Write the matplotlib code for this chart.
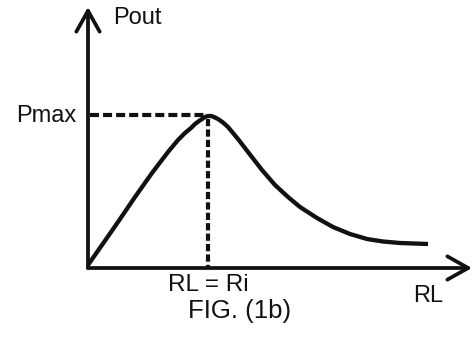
import matplotlib
matplotlib.use("Agg")
import matplotlib.pyplot as plt

plt.rcParams['font.family'] = ['Liberation Sans', 'DejaVu Sans']
plt.rcParams['lines.scale_dashes'] = False

# load resistance vs output power (arbitrary units, origin at 0,0)
RL = [0, 14, 30, 47, 64, 80, 90, 97, 103, 107, 111, 114, 117, 120, 123, 126,
      130, 135, 140, 150, 160, 174, 187, 200, 212, 229, 245, 262, 279, 295,
      312, 340]
Pout = [3, 23, 46, 71, 95, 116, 128, 135, 140, 144, 147, 149, 151, 152, 152,
        151, 149, 145.5, 141, 129, 116, 98, 83, 71, 61, 50, 41, 34, 29, 26.5,
        25, 24]
Ri = 120
Pmax = 152
RL_end = 384
Pout_end = 261

ink = '#111111'

fig = plt.figure(figsize=(4.77, 3.37), dpi=100)
ax = fig.add_axes([0, 0, 1, 1])
ax.set_xlim(-88, 389)
ax.set_ylim(-69, 268)
ax.axis('off')

# axes with open arrow heads
arrow = dict(arrowstyle='->,head_length=0.75,head_width=0.42', lw=2.7,
             color=ink, mutation_scale=20, shrinkA=0, shrinkB=0)
ax.annotate('', xy=(RL_end, 0), xytext=(0, 0), arrowprops=arrow)
ax.annotate('', xy=(0, Pout_end), xytext=(0, 0), arrowprops=arrow)

# power curve
ax.plot(RL, Pout, color=ink, lw=3.1, solid_joinstyle='round',
        solid_capstyle='butt')

# maximum power transfer markers
ax.plot([2, Ri - 3], [Pmax + 1, Pmax + 1], color=ink, lw=3.0, dashes=(6.5, 2.9))
ax.plot([Ri, Ri], [Pmax - 3, 0], color=ink, lw=3.0, dashes=(5.2, 2.3))

ax.text(25, 250, 'Pout', fontsize=17, color=ink, ha='left', va='center')
ax.text(-12, Pmax, 'Pmax', fontsize=17, color=ink, ha='right', va='center')
ax.text(Ri, -17, 'RL = Ri', fontsize=17.5, color=ink, ha='center', va='center')
ax.text(340, -28, 'RL', fontsize=17, color=ink, ha='center', va='center')
ax.text(152, -43, 'FIG. (1b)', fontsize=18.5, color=ink, ha='center',
        va='center')

fig.savefig('out.png', dpi=100)
